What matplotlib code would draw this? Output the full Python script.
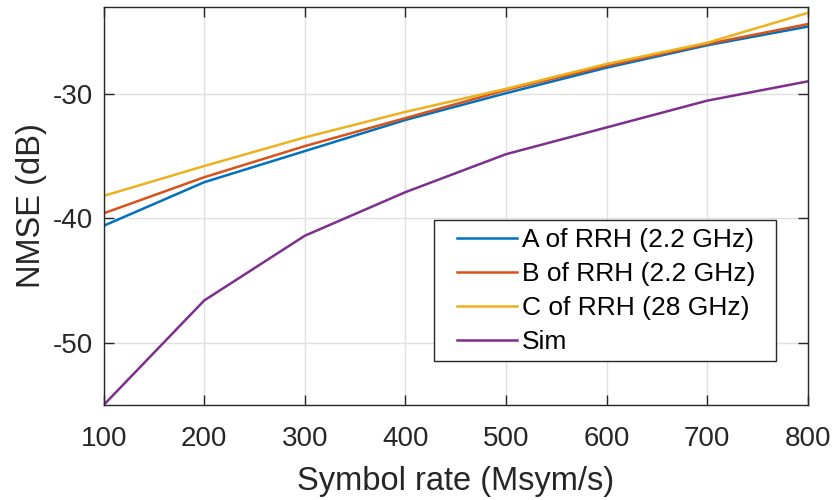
import numpy as np
import matplotlib
matplotlib.use("Agg")
import matplotlib.pyplot as plt
from matplotlib.patches import Rectangle

plt.rcParams["font.family"] = ["Liberation Sans", "DejaVu Sans"]
plt.rcParams["axes.unicode_minus"] = False

# values
symbol_rate = [100, 200, 300, 400, 500, 600, 700, 800]
nmse_a = [-40.6, -37.1, -34.6, -32.1, -29.95, -27.9, -26.1, -24.6]
nmse_b = [-39.6, -36.7, -34.2, -31.95, -29.7, -27.75, -26.0, -24.4]
nmse_c = [-38.2, -35.8, -33.5, -31.45, -29.6, -27.6, -25.9, -23.5]
nmse_sim = [-55.0, -46.6, -41.4, -37.9, -34.85, -32.7, -30.55, -29.0]

labels = ["A of RRH (2.2 GHz)", "B of RRH (2.2 GHz)", "C of RRH (28 GHz)", "Sim"]
colors = ["#0072BD", "#D95319", "#EDB120", "#7E2F8E"]

fig = plt.figure(figsize=(8.34, 5.0), dpi=100)
ax = fig.add_axes([0.1243, 0.19, 0.8442, 0.7966])

for y, lab, c in zip([nmse_a, nmse_b, nmse_c, nmse_sim], labels, colors):
    ax.plot(symbol_rate, y, color=c, lw=1.8, label=lab)

ax.set_xlim(100, 800)
ax.set_ylim(-55, -23)
ax.set_xticks(np.arange(100, 801, 100))
ax.set_yticks([-50, -40, -30])

ax.grid(True, color="#e0e0e0", lw=1.0)
ax.set_axisbelow(True)
for s in ax.spines.values():
    s.set_color("#262626")
    s.set_linewidth(1.0)
ax.tick_params(direction="in", length=7, width=1.0, colors="#262626",
               labelsize=20, top=True, right=True, pad=8)
ax.tick_params(axis="x", pad=15)

ax.set_xlabel("Symbol rate (Msym/s)", fontsize=23.5, color="#262626", labelpad=10)
ax.set_ylabel("NMSE (dB)", fontsize=23.5, color="#262626", labelpad=4)

# legend box drawn separately (MATLAB style: wide side padding, tight top/bottom)
frame = Rectangle((0.4688, 0.1112), 0.4858, 0.3533, transform=ax.transAxes,
                  facecolor="white", edgecolor="#262626", lw=1.0, zorder=4.5)
ax.add_patch(frame)
leg = ax.legend(loc="upper left", bbox_to_anchor=(0.5014, 0.4450), fontsize=19,
                handlelength=2.3, handletextpad=0.18, labelspacing=0.38,
                borderpad=0.0, borderaxespad=0.0, frameon=False)
leg.set_zorder(5)

fig.savefig("out.png", dpi=100)
